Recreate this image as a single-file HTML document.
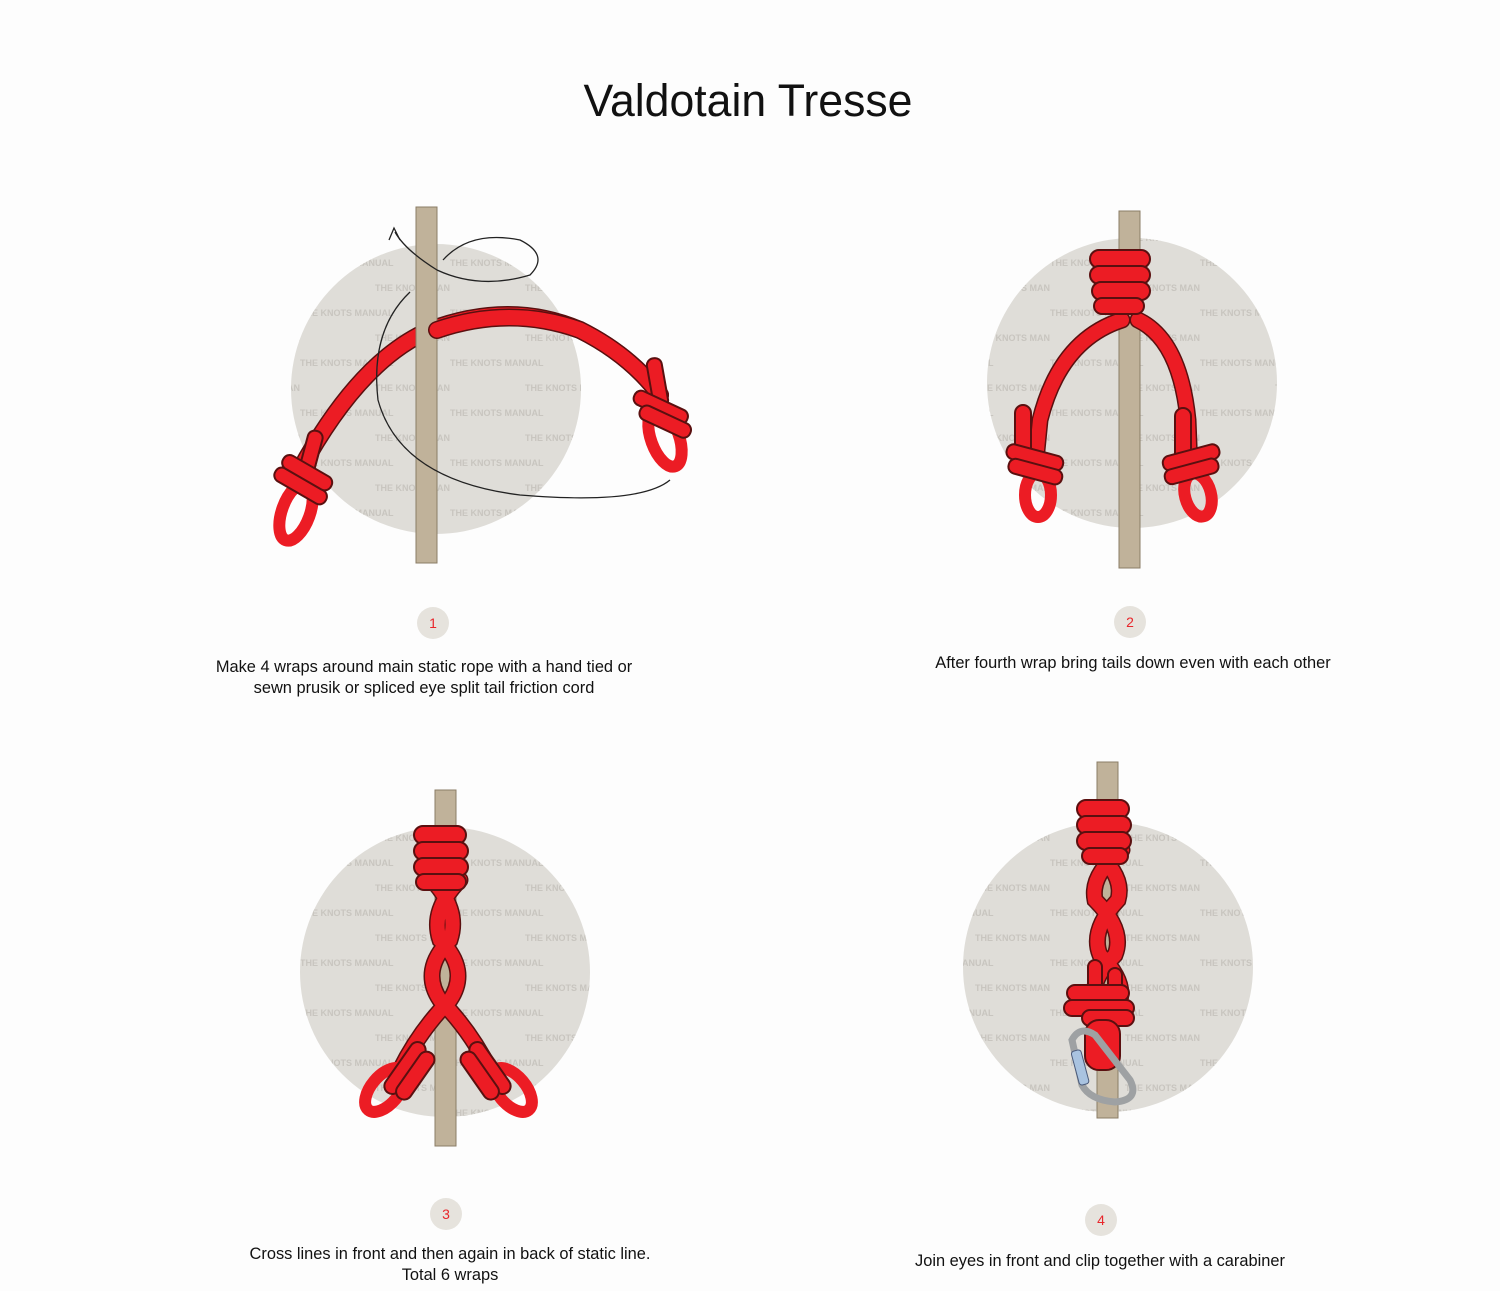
<!DOCTYPE html>
<html><head><meta charset="utf-8"><style>
html,body{margin:0;padding:0;background:#fdfdfd;}
svg{display:block;}
text{font-family:"Liberation Sans",sans-serif;}
</style></head><body>
<svg width="1500" height="1291" viewBox="0 0 1500 1291" xmlns="http://www.w3.org/2000/svg">
<defs>
<pattern id="wm" width="150" height="50" patternUnits="userSpaceOnUse">
<text x="0" y="16" font-size="9" fill="#c8c5bf" font-weight="bold">THE KNOTS MANUAL</text>
<text x="75" y="41" font-size="9" fill="#c8c5bf" font-weight="bold">THE KNOTS MANUAL</text>
</pattern>
</defs>
<rect width="1500" height="1291" fill="#fdfdfd"/>
<text x="748" y="116" font-size="45" text-anchor="middle" fill="#111" textLength="329" lengthAdjust="spacingAndGlyphs">Valdotain Tresse</text>

<g>
<circle cx="436" cy="389" r="145" fill="#dfddd8"/><circle cx="436" cy="389" r="145" fill="url(#wm)"/>
<circle cx="1132" cy="383" r="145" fill="#dfddd8"/><circle cx="1132" cy="383" r="145" fill="url(#wm)"/>
<circle cx="445" cy="972" r="145" fill="#dfddd8"/><circle cx="445" cy="972" r="145" fill="url(#wm)"/>
<circle cx="1108" cy="967" r="145" fill="#dfddd8"/><circle cx="1108" cy="967" r="145" fill="url(#wm)"/>
</g>

<!-- Panel 1 -->
<g stroke-linecap="round" fill="none">
<path d="M300 470 Q360 360 430 330 Q510 300 580 330 Q630 355 660 395" stroke="#5a1010" stroke-width="18"/>
<path d="M300 470 Q360 360 430 330 Q510 300 580 330 Q630 355 660 395" stroke="#ec1c24" stroke-width="15"/>
</g>
<rect x="416" y="207" width="21" height="356" fill="#c0b29a" stroke="#8a7d66" stroke-width="1"/>
<g stroke-linecap="round" fill="none">
<path d="M437 330 Q510 305 580 330 Q630 355 660 395" stroke="#5a1010" stroke-width="18"/>
<path d="M437 330 Q510 305 580 330 Q630 355 660 395" stroke="#ec1c24" stroke-width="15"/>
</g>
<g stroke="#5a1010" stroke-width="2" fill="#ec1c24">
<ellipse cx="296" cy="512" rx="14" ry="30" transform="rotate(20 296 512)" fill="none" stroke="#ec1c24" stroke-width="12"/>
<rect x="303" y="430" width="15" height="50" rx="7" transform="rotate(15 310 455)"/>
<rect x="272" y="478" width="58" height="15" rx="7" transform="rotate(30 300 485)"/>
<rect x="280" y="465" width="55" height="15" rx="7" transform="rotate(30 307 472)"/>
<ellipse cx="665" cy="438" rx="14" ry="30" transform="rotate(-20 665 438)" fill="none" stroke="#ec1c24" stroke-width="12"/>
<rect x="650" y="358" width="15" height="50" rx="7" transform="rotate(-10 657 383)"/>
<rect x="632" y="400" width="58" height="15" rx="7" transform="rotate(25 661 407)"/>
<rect x="638" y="414" width="55" height="15" rx="7" transform="rotate(25 665 421)"/>
</g>
<g fill="none" stroke="#222" stroke-width="1.3">
<path d="M443 260 Q470 230 520 240 Q550 255 530 275 Q480 290 437 270 Q405 250 395 232"/>
<path d="M389 240 L394 228 L400 240"/>
<path d="M410 292 Q370 330 378 400 Q400 480 520 495 Q640 505 670 480"/>
</g>

<!-- Panel 2 -->
<rect x="1119" y="211" width="21" height="357" fill="#c0b29a" stroke="#8a7d66"/>
<g stroke-linecap="round" fill="none">
<path d="M1122 320 Q1060 340 1040 420 L1035 470" stroke="#5a1010" stroke-width="17"/>
<path d="M1122 320 Q1060 340 1040 420 L1035 470" stroke="#ec1c24" stroke-width="14"/>
<path d="M1138 320 Q1180 340 1188 420 L1190 470" stroke="#5a1010" stroke-width="17"/>
<path d="M1138 320 Q1180 340 1188 420 L1190 470" stroke="#ec1c24" stroke-width="14"/>
</g>
<g stroke="#5a1010" stroke-width="2" fill="#ec1c24">
<rect x="1090" y="250" width="60" height="18" rx="9"/>
<rect x="1090" y="266" width="60" height="18" rx="9"/>
<rect x="1092" y="282" width="58" height="18" rx="9"/>
<rect x="1094" y="298" width="50" height="16" rx="8"/>
<ellipse cx="1038" cy="495" rx="13" ry="22" fill="none" stroke="#ec1c24" stroke-width="12"/>
<rect x="1015" y="405" width="16" height="55" rx="8"/>
<rect x="1006" y="450" width="58" height="15" rx="7" transform="rotate(15 1035 457)"/>
<rect x="1008" y="464" width="55" height="15" rx="7" transform="rotate(15 1035 471)"/>
<ellipse cx="1198" cy="495" rx="13" ry="22" fill="none" stroke="#ec1c24" stroke-width="12" transform="rotate(-15 1198 495)"/>
<rect x="1175" y="408" width="16" height="55" rx="8"/>
<rect x="1162" y="450" width="58" height="15" rx="7" transform="rotate(-15 1191 457)"/>
<rect x="1164" y="464" width="55" height="15" rx="7" transform="rotate(-15 1191 471)"/>
</g>

<!-- Panel 3 -->
<rect x="435" y="790" width="21" height="356" fill="#c0b29a" stroke="#8a7d66"/>
<g stroke-linecap="round" fill="none">
<path d="M460 880 Q430 910 440 940 Q470 970 450 1000 Q420 1030 400 1070 M432 880 Q460 910 450 940 Q420 970 440 1000 Q470 1030 490 1070" stroke="#5a1010" stroke-width="17"/>
<path d="M460 880 Q430 910 440 940 Q470 970 450 1000 Q420 1030 400 1070 M432 880 Q460 910 450 940 Q420 970 440 1000 Q470 1030 490 1070" stroke="#ec1c24" stroke-width="14"/>
</g>
<g stroke="#5a1010" stroke-width="2" fill="#ec1c24">
<rect x="414" y="826" width="52" height="18" rx="9"/>
<rect x="414" y="842" width="54" height="18" rx="9"/>
<rect x="414" y="858" width="54" height="18" rx="9"/>
<rect x="416" y="874" width="50" height="16" rx="8"/>
<ellipse cx="385" cy="1090" rx="14" ry="26" fill="none" stroke="#ec1c24" stroke-width="12" transform="rotate(40 385 1090)"/>
<rect x="375" y="1060" width="60" height="16" rx="8" transform="rotate(-55 405 1068)"/>
<rect x="388" y="1068" width="55" height="16" rx="8" transform="rotate(-55 415 1076)"/>
<ellipse cx="512" cy="1090" rx="14" ry="26" fill="none" stroke="#ec1c24" stroke-width="12" transform="rotate(-40 512 1090)"/>
<rect x="460" y="1060" width="60" height="16" rx="8" transform="rotate(55 490 1068)"/>
<rect x="452" y="1068" width="55" height="16" rx="8" transform="rotate(55 480 1076)"/>
</g>

<!-- Panel 4 -->
<rect x="1097" y="762" width="21" height="356" fill="#c0b29a" stroke="#8a7d66"/>
<g stroke-linecap="round" fill="none">
<path d="M1122 850 Q1090 875 1095 900 Q1125 930 1115 955 Q1090 980 1095 1000 M1093 850 Q1125 875 1118 900 Q1090 930 1100 955 Q1125 980 1120 1000" stroke="#5a1010" stroke-width="17"/>
<path d="M1122 850 Q1090 875 1095 900 Q1125 930 1115 955 Q1090 980 1095 1000 M1093 850 Q1125 875 1118 900 Q1090 930 1100 955 Q1125 980 1120 1000" stroke="#ec1c24" stroke-width="14"/>
</g>
<g stroke="#5a1010" stroke-width="2" fill="#ec1c24">
<rect x="1077" y="800" width="52" height="18" rx="9"/>
<rect x="1077" y="816" width="54" height="18" rx="9"/>
<rect x="1077" y="832" width="54" height="18" rx="9"/>
<rect x="1082" y="848" width="46" height="16" rx="8"/>
<rect x="1088" y="960" width="14" height="35" rx="7"/>
<rect x="1108" y="968" width="14" height="35" rx="7"/>
<rect x="1067" y="985" width="62" height="16" rx="8"/>
<rect x="1064" y="1000" width="70" height="16" rx="8"/>
<rect x="1082" y="1010" width="52" height="16" rx="8"/>
<rect x="1085" y="1020" width="35" height="50" rx="14"/>
</g>
<path d="M1072 1040 Q1080 1025 1095 1035 L1130 1080 Q1140 1100 1115 1102 Q1090 1100 1082 1085 Z" fill="none" stroke="#9ea1a3" stroke-width="7"/>
<rect x="1075" y="1050" width="10" height="35" rx="3" fill="#a9c3e0" stroke="#4a5a7a" transform="rotate(-15 1080 1067)"/>

<g font-size="14" text-anchor="middle" fill="#e8262b">
<circle cx="433" cy="623" r="16" fill="#e6e3dd"/><text x="433" y="628">1</text>
<circle cx="1130" cy="622" r="16" fill="#e6e3dd"/><text x="1130" y="627">2</text>
<circle cx="446" cy="1214" r="16" fill="#e6e3dd"/><text x="446" y="1219">3</text>
<circle cx="1101" cy="1220" r="16" fill="#e6e3dd"/><text x="1101" y="1225">4</text>
</g>
<g font-size="16.4" text-anchor="middle" fill="#111">
<text x="424" y="672">Make 4 wraps around main static rope with a hand tied or</text>
<text x="424" y="693">sewn prusik or spliced eye split tail friction cord</text>
<text x="1133" y="668">After fourth wrap bring tails down even with each other</text>
<text x="450" y="1259">Cross lines in front and then again in back of static line.</text>
<text x="450" y="1280">Total 6 wraps</text>
<text x="1100" y="1266">Join eyes in front and clip together with a carabiner</text>
</g>
</svg>
</body></html>
